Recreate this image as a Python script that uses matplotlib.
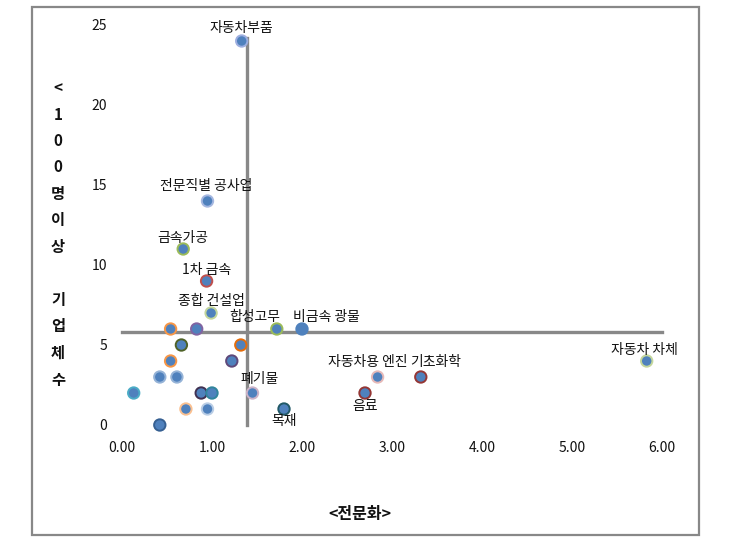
import matplotlib
matplotlib.use('Agg')
import matplotlib.pyplot as plt
from matplotlib.patches import Rectangle

plt.rcParams['font.family'] = ['Noto Sans CJK KR', 'DejaVu Sans']

# data: specialization (x) vs. firms with 100+ employees (y)
names = ['자동차부품', '전문직별 공사업', '금속가공', '1차 금속', '종합 건설업',
         '', '', '합성고무', '비금속 광물', '', '', '', '', '', '', '', '', '',
         '폐기물', '', '', '목재', '', '음료', '자동차용 엔진', '기초화학', '자동차 차체']
x_vals = [1.33, 0.95, 0.68, 0.94, 0.99,
          0.54, 0.83, 1.72, 2.00, 0.66, 1.32, 0.54, 1.22, 0.42, 0.61, 0.13, 0.88, 1.00,
          1.45, 0.71, 0.95, 1.80, 0.42, 2.70, 2.84, 3.32, 5.83]
y_vals = [24, 14, 11, 9, 7,
          6, 6, 6, 6, 5, 5, 4, 4, 3, 3, 2, 2, 2,
          2, 1, 1, 1, 0, 2, 3, 3, 4]

# reference lines (averages)
x_mean = 1.39
y_mean = 5.8

x_ticks = [0, 1, 2, 3, 4, 5, 6]
y_ticks = [0, 5, 10, 15, 20, 25]

# halo colour of each marker
edge_colors = ['#9DAEE0', '#A5B7E0', '#9BBB59', '#C0504D', '#C3D69B',
               '#F79646', '#8064A2', '#9BBB59', '#4F81BD', '#4F6228', '#E46C0A',
               '#F79646', '#5F497A', '#95B3D7', '#95B3D7', '#4BACC6', '#403152',
               '#31859C', '#CCB3C8', '#FAC090', '#B9CDE5', '#215967', '#366092',
               '#943634', '#E6B9B8', '#953735', '#C3D69B']
# label offsets in pixels (dx, dy)
label_off = {'자동차부품': (0, 13), '전문직별 공사업': (-1, 15), '금속가공': (0, 11),
             '1차 금속': (0, 11), '종합 건설업': (0, 12), '합성고무': (-22, 12),
             '비금속 광물': (24, 12), '자동차용 엔진': (-10, 15), '기초화학': (15, 15),
             '폐기물': (7, 14), '음료': (0, -13), '목재': (0, -12), '자동차 차체': (-2, 11)}

W, H = 740, 557
fig = plt.figure(figsize=(W / 100, H / 100), dpi=100)
ax = fig.add_axes([122 / W, (H - 425) / H, 540 / W, 400 / H])

ax.plot([0, 6], [y_mean, y_mean], color='#888888', lw=2.4, zorder=1, clip_on=False)
ax.plot([x_mean, x_mean], [0, 24.2], color='#888888', lw=2.4, zorder=1, clip_on=False)

ax.scatter(x_vals, y_vals, s=8.2 ** 2, c='#4F81BD', edgecolors=edge_colors,
           linewidths=1.4, zorder=3, clip_on=False)

for n, xv, yv in zip(names, x_vals, y_vals):
    if not n:
        continue
    dx, dy = label_off[n]
    ax.annotate(n, (xv, yv), xytext=(dx, dy), textcoords='offset pixels',
                ha='center', va='center', fontsize=10, color='#111111', zorder=4)

ax.set_xlim(0, 6)
ax.set_ylim(0, 25)
ax.set_xticks(x_ticks)
ax.set_xticklabels(['%.2f' % t for t in x_ticks])
ax.set_yticks(y_ticks)
ax.set_yticklabels([str(t) for t in y_ticks])
ax.tick_params(length=0, labelsize=10, colors='#111111')
ax.tick_params(axis='x', pad=11.5)
ax.tick_params(axis='y', pad=10.5)
for s in ax.spines.values():
    s.set_visible(False)

# stacked vertical y label
ylab = ['<', '1', '0', '0', '명', '이', '상', '', '기', '업', '체', '수']
for i, ch in enumerate(ylab):
    fig.text(58 / W, 1 - (88 + i * 26.5) / H, ch, ha='center', va='center',
             fontsize=11, fontweight='bold', color='#111111')

fig.text(360 / W, 1 - 514 / H, '<전문화>', ha='center', va='center',
         fontsize=11.5, fontweight='bold', color='#111111')

fig.add_artist(Rectangle((32 / W, (H - 535) / H), (699 - 32) / W, (535 - 7) / H,
                         transform=fig.transFigure, fill=False,
                         edgecolor='#888888', lw=1.6))

fig.savefig('out.png', dpi=100)
